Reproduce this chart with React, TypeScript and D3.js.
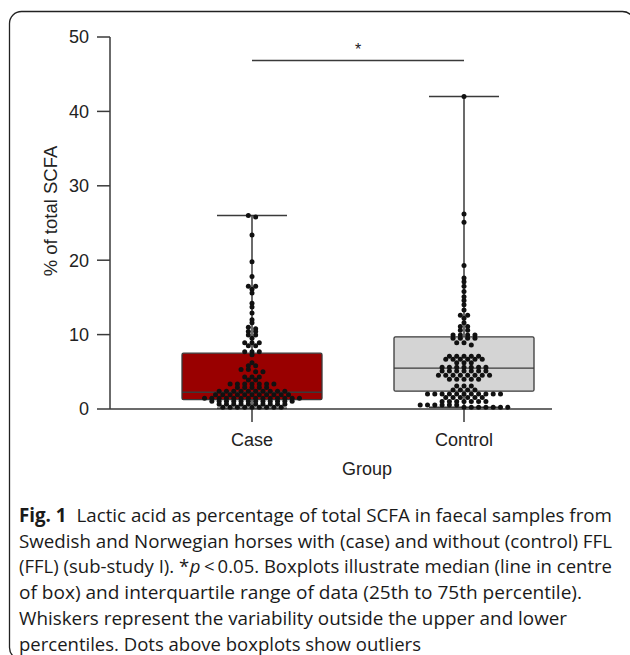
import React, { useLayoutEffect, useRef, useState } from 'react';
import * as d3 from 'd3';

const groups = ['Case', 'Control'];
const boxMin = [0.1, 0.25];
const boxQ1 = [1.25, 2.4];
const boxMedian = [2.25, 5.5];
const boxQ3 = [7.5, 9.7];
const boxMax = [26.0, 42.0];
const yTicks = [0, 10, 20, 30, 40, 50];

const caseValues = [
  26.0, 25.8, 23.4, 19.8, 17.8, 16.5, 16.5, 16.1, 15.6, 14.2, 13.7, 12.9, 12.0, 11.6, 11.0, 10.8,
  10.4, 10.4, 9.95, 9.95, 9.5, 8.9, 8.9, 8.9, 8.5, 8.5, 7.7, 7.7, 7.7, 7.3, 6.2, 5.8, 5.8, 5.3, 5.3,
  5.0, 5.0, 4.3, 4.3, 4.3, 3.9, 3.9,
  3.35, 3.35, 3.35, 3.35, 3.35, 3.35, 3.35,
  2.9, 2.9, 2.9, 2.9, 2.9,
  2.4, 2.4, 2.4, 2.4, 2.4, 2.4, 2.4, 2.4, 2.4, 2.4,
  1.9, 1.9, 1.9, 1.9, 1.9, 1.9, 1.9, 1.9, 1.9, 1.9, 1.9,
  1.45, 1.45, 1.45, 1.45, 1.45, 1.45, 1.45, 1.45, 1.45, 1.45, 1.45, 1.45, 1.45, 1.45,
  1.05, 1.05, 1.05, 1.05, 1.05, 1.05, 1.05, 1.05, 1.05, 1.05, 1.05, 1.05,
  0.65, 0.65, 0.65, 0.65, 0.65, 0.65, 0.65, 0.65, 0.65, 0.65,
  0.25, 0.25, 0.25, 0.25, 0.25, 0.25, 0.25, 0.25, 0.25,
];

const controlValues = [
  42.0, 26.2, 25.1, 19.3, 17.6, 17.1, 16.5, 15.8, 15.1, 14.6, 14.0, 13.3, 12.6, 12.6, 12.2, 11.6,
  11.1, 11.1, 10.6, 10.6,
  9.95, 9.95, 9.95, 9.95,
  9.5, 9.5, 9.5, 9.5,
  8.9, 8.9, 8.6,
  7.1, 7.1, 7.1, 7.1, 7.1,
  6.7, 6.7, 6.7, 6.7, 6.7, 6.7,
  6.2, 6.2, 6.2,
  5.6, 5.6, 5.6, 5.6, 5.6, 5.6, 5.6,
  5.1, 5.1, 5.1, 5.1, 5.1, 5.1, 5.1,
  4.55, 4.55, 4.55, 4.55, 4.55, 4.55, 4.55, 4.55,
  4.0, 4.0, 4.0, 4.0, 4.0,
  3.1, 3.1, 3.1,
  2.55, 2.55, 2.55, 2.55,
  2.0, 2.0, 2.0, 2.0, 2.0, 2.0, 2.0, 2.0, 2.0, 2.0, 2.0,
  1.55, 1.55, 1.55, 1.55, 1.55, 1.55,
  1.0, 1.0, 1.0, 1.0, 1.0, 1.0, 1.0,
  0.55, 0.55, 0.55, 0.55, 0.55, 0.55,
  0.25, 0.25, 0.25, 0.25, 0.25, 0.25, 0.25,
];

const groupValues = [caseValues, controlValues];

const captionLines = [
  'Lactic acid as percentage of total SCFA in faecal samples from',
  'Swedish and Norwegian horses with (case) and without (control) FFL',
  '(FFL) (sub-study I). *p < 0.05. Boxplots illustrate median (line in centre',
  'of box) and interquartile range of data (25th to 75th percentile).',
  'Whiskers represent the variability outside the upper and lower',
  'percentiles. Dots above boxplots show outliers',
];

const FILLS = ['#990000', '#d4d4d4'];
const AXIS = '#3a3a3a';
const AX_FONT = '"Liberation Sans", Arial, sans-serif';
const CAP_FONT = '"Open Sans", "Noto Sans", sans-serif';

function layoutRows(values: number[], y: (v: number) => number, spacing: number, thresh: number) {
  const sorted = [...values].sort((a, b) => b - a);
  const rows: number[][] = [];
  let cur: number[] = [];
  let startY = -Infinity;
  for (const v of sorted) {
    const py = y(v);
    if (cur.length && py - startY < thresh) cur.push(v);
    else {
      if (cur.length) rows.push(cur);
      cur = [v];
      startY = py;
    }
  }
  if (cur.length) rows.push(cur);
  const pts: { dx: number; v: number }[] = [];
  rows.forEach((r) => r.forEach((v, i) => pts.push({ dx: (i - (r.length - 1) / 2) * spacing, v })));
  return pts;
}

export default function App() {
  const W = 630;
  const H = 655;
  const y = d3.scaleLinear().domain([0, 50]).range([409, 37]);
  const x = d3.scalePoint<string>().domain(groups).range([252, 464]);
  const axisLeft = 110;
  const axisRight = 552;
  const boxW = 140;
  const capW = 70;
  const tickLen = 13;

  const captionX = 19;
  const captionY0 = 522;
  const lineGap = 25.7;
  const lineWidths = [593, 593, 593, 563, 548, 402];
  const capSize = 19;

  // line 3 split into three measured pieces (upright / italic / upright)
  const [pre3, post3raw] = captionLines[2].split('*p');
  const post3 = post3raw.replace(' < ', '<\u2009');
  const parts3 = [pre3 + '*', 'p\u2009', post3];
  const gaps3 = [0.5, 0.5, 0];
  const measRefs = [useRef<SVGTextElement>(null), useRef<SVGTextElement>(null), useRef<SVGTextElement>(null)];
  const [widths3, setWidths3] = useState<number[] | null>(null);
  useLayoutEffect(() => {
    const ws = measRefs.map((r) => (r.current ? r.current.getComputedTextLength() : 0));
    if (ws.every((w) => w > 0)) setWidths3(ws);
  }, []);

  const renderLine3 = () => {
    const yy = captionY0 + 2 * lineGap;
    if (!widths3) {
      return (
        <g>
          {parts3.map((p, k) => (
            <text
              key={k}
              ref={measRefs[k]}
              x={0}
              y={-100}
              fontFamily={CAP_FONT}
              fontSize={capSize}
              fontStyle={k === 1 ? 'italic' : 'normal'}
              style={{ whiteSpace: 'pre' }}
            >
              {p}
            </text>
          ))}
        </g>
      );
    }
    const totalGap = gaps3[0] + gaps3[1] + gaps3[2];
    const total = widths3[0] + widths3[1] + widths3[2];
    const s = (lineWidths[2] - totalGap) / total;
    let cx = captionX;
    return (
      <g>
        {parts3.map((p, k) => {
          const w = widths3[k] * s;
          const el = (
            <text
              key={k}
              x={cx}
              y={yy}
              fontFamily={CAP_FONT}
              fontSize={capSize}
              fontStyle={k === 1 ? 'italic' : 'normal'}
              fill="#1a1a1a"
              textLength={w}
              lengthAdjust="spacingAndGlyphs"
              style={{ whiteSpace: 'pre' }}
            >
              {p}
            </text>
          );
          cx += w + gaps3[k];
          return el;
        })}
      </g>
    );
  };

  return (
    <svg width={W} height={H} style={{ position: 'absolute', left: 0, top: 0, background: '#fff' }}>
      <rect x={9.5} y={11.5} width={625} height={648} rx={12} fill="none" stroke="#222" strokeWidth={1.3} />

      {/* y axis */}
      <line x1={axisLeft} x2={axisLeft} y1={y(50)} y2={y(0)} stroke={AXIS} strokeWidth={1.5} />
      {yTicks.map((t) => (
        <g key={t}>
          <line x1={axisLeft - tickLen} x2={axisLeft} y1={y(t)} y2={y(t)} stroke={AXIS} strokeWidth={1.5} />
          <text x={89} y={y(t)} dy="0.36em" textAnchor="end" fontFamily={AX_FONT} fontSize={18} fill="#222">
            {t}
          </text>
        </g>
      ))}
      <text
        transform={`translate(57,211) rotate(-90)`}
        textAnchor="middle"
        fontFamily={AX_FONT}
        fontSize={18.5}
        fill="#222"
      >
        % of total SCFA
      </text>

      {/* x axis */}
      <line x1={axisLeft} x2={axisRight} y1={y(0)} y2={y(0)} stroke={AXIS} strokeWidth={1.5} />
      {groups.map((g) => (
        <g key={g}>
          <line x1={x(g)} x2={x(g)} y1={y(0)} y2={y(0) + tickLen} stroke={AXIS} strokeWidth={1.5} />
          <text x={x(g)} y={446} textAnchor="middle" fontFamily={AX_FONT} fontSize={18} fill="#222">
            {g}
          </text>
        </g>
      ))}
      <text x={367} y={475} textAnchor="middle" fontFamily={AX_FONT} fontSize={18} fill="#222">
        Group
      </text>

      {/* significance */}
      <line x1={x('Case')} x2={x('Control')} y1={60.5} y2={60.5} stroke={AXIS} strokeWidth={1.5} />
      <text x={(x('Case')! + x('Control')!) / 2} y={55} textAnchor="middle" fontFamily={AX_FONT} fontSize={16} fill="#222">
        *
      </text>

      {/* boxes */}
      {groups.map((g, i) => {
        const cx = x(g)!;
        return (
          <g key={g}>
            <line x1={cx} x2={cx} y1={y(boxMax[i])} y2={y(boxQ3[i])} stroke={AXIS} strokeWidth={1.5} />
            <line x1={cx} x2={cx} y1={y(boxQ1[i])} y2={y(boxMin[i])} stroke={AXIS} strokeWidth={1.5} />
            <line x1={cx - capW / 2} x2={cx + capW / 2} y1={y(boxMax[i])} y2={y(boxMax[i])} stroke={AXIS} strokeWidth={1.5} />
            <line x1={cx - capW / 2} x2={cx + capW / 2} y1={y(boxMin[i])} y2={y(boxMin[i])} stroke={AXIS} strokeWidth={1.5} />
            <rect
              x={cx - boxW / 2}
              y={y(boxQ3[i])}
              width={boxW}
              height={y(boxQ1[i]) - y(boxQ3[i])}
              fill={FILLS[i]}
              stroke={AXIS}
              strokeWidth={1.3}
              rx={1.5}
            />
            <line x1={cx - boxW / 2} x2={cx + boxW / 2} y1={y(boxMedian[i])} y2={y(boxMedian[i])} stroke={AXIS} strokeWidth={1.4} />
          </g>
        );
      })}

      {/* dots */}
      {groups.map((g, i) => {
        const cx = x(g)!;
        const pts = layoutRows(groupValues[i], (v) => y(v), 7.3, 2.6);
        return (
          <g key={g + 'dots'}>
            {pts.map((p, j) => (
              <circle key={j} cx={cx + p.dx} cy={y(p.v)} r={2.5} fill="#111" />
            ))}
          </g>
        );
      })}

      {/* caption */}
      {captionLines.map((line, i) => {
        if (i === 2) return <g key={i}>{renderLine3()}</g>;
        const yy = captionY0 + i * lineGap;
        const common = {
          x: captionX,
          y: yy,
          fontFamily: CAP_FONT,
          fontSize: capSize,
          fill: '#1a1a1a',
          textLength: lineWidths[i],
          lengthAdjust: 'spacingAndGlyphs',
        } as any;
        if (i === 0) {
          return (
            <text key={i} {...common}>
              <tspan fontWeight="bold">Fig. 1</tspan>
              <tspan dx={10}>{line}</tspan>
            </text>
          );
        }
        return (
          <text key={i} {...common}>
            {line}
          </text>
        );
      })}
    </svg>
  );
}
